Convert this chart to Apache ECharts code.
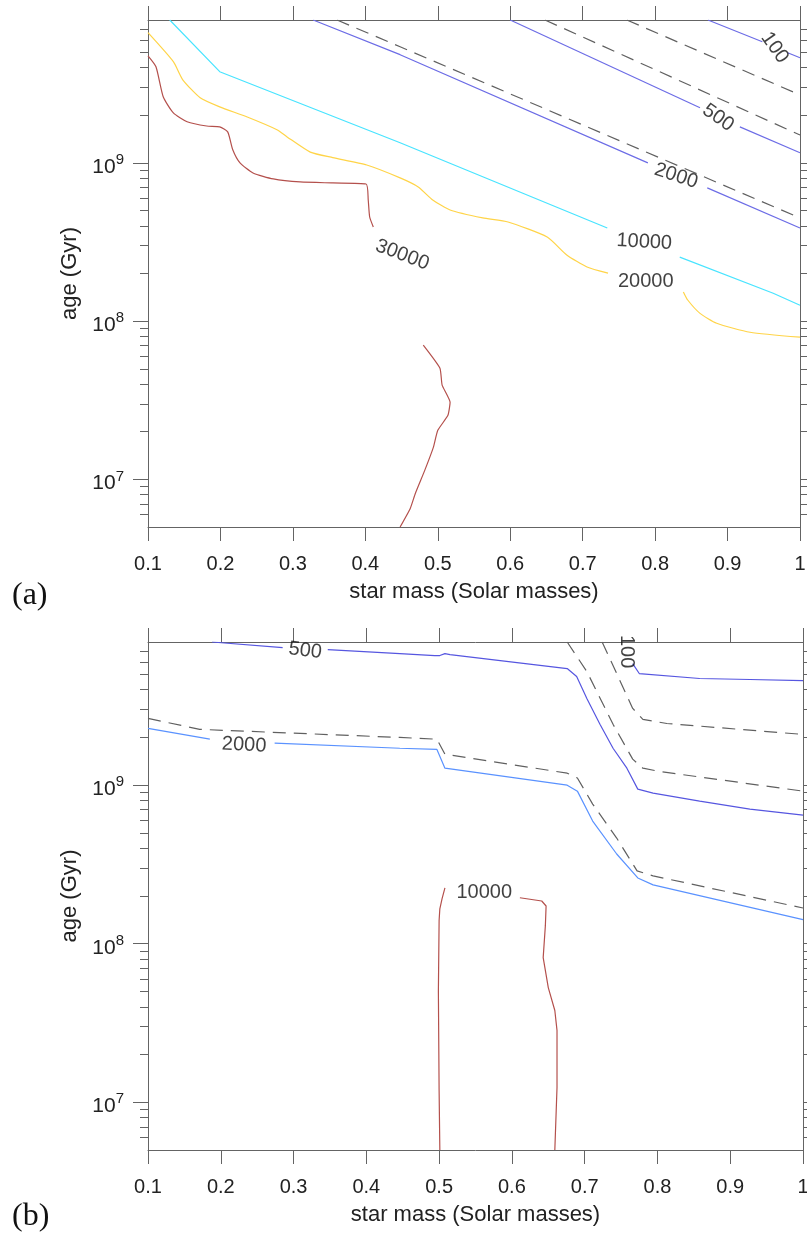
<!DOCTYPE html>
<html><head><meta charset="utf-8">
<script src="https://cdn.jsdelivr.net/npm/echarts@6/dist/echarts.min.js"></script>
<style>html,body{margin:0;padding:0;background:#fff}#c{width:807px;height:1234px}</style>
</head><body><div id="c"></div>
<script>
// ---------- axis ranges / tick labels ----------
const massRange = [0.1, 1];
const ageRange = [5e6, 8e9];
const decadeTicks = [1e7, 1e8, 1e9];
const minorDecades = [1e6, 1e7, 1e8, 1e9];
const minorFactors = [2, 3, 4, 5, 6, 7, 8, 9];
const xTitle = 'star mass (Solar masses)';
const yTitle = 'age (Gyr)';
const panelTags = ['(a)', '(b)'];

// ---------- panel (a) contours: [mass, age] ----------
const a30000_upper = [[0.100,4.75e9],[0.111,4.05e9],[0.121,2.62e9],[0.135,2.07e9],[0.154,1.82e9],[0.181,1.71e9],[0.199,1.69e9],[0.210,1.57e9],[0.217,1.21e9],[0.227,1.0e9],[0.245,8.64e8],[0.273,7.92e8],[0.310,7.58e8],[0.355,7.47e8],[0.401,7.36e8],[0.404,5.83e8],[0.406,4.55e8],[0.411,3.94e8]];
const a30000_lower = [[0.480,7.05e7],[0.503,5.04e7],[0.506,3.94e7],[0.517,3.07e7],[0.514,2.54e7],[0.500,2.04e7],[0.494,1.60e7],[0.482,1.14e7],[0.469,8.15e6],[0.462,6.55e6],[0.448,5.0e6]];
const a20000_left = [[0.100,6.65e9],[0.135,4.36e9],[0.148,3.35e9],[0.172,2.58e9],[0.199,2.26e9],[0.237,1.95e9],[0.278,1.62e9],[0.292,1.46e9],[0.324,1.17e9],[0.355,1.08e9],[0.402,9.7e8],[0.448,8.04e8],[0.473,7.05e8],[0.493,5.83e8],[0.517,5.04e8],[0.562,4.49e8],[0.597,4.23e8],[0.651,3.40e8],[0.678,2.62e8],[0.706,2.20e8],[0.735,2.01e8]];
const a20000_right = [[0.839,1.53e8],[0.845,1.36e8],[0.862,1.12e8],[0.885,9.7e7],[0.931,8.51e7],[1.0,7.92e7]];
const a10000_left = [[0.130,8e9],[0.199,3.77e9],[0.448,1.34e9],[0.734,3.88e8]];
const a10000_right = [[0.834,2.54e8],[0.963,1.50e8],[1.0,1.26e8]];
const a2000_left = [[0.328,8e9],[0.448,4.83e9],[0.790,1.0e9]];
const a2000_right = [[0.872,6.95e8],[1.0,3.88e8]];
const a500_left = [[0.600,8e9],[0.862,2.23e9]];
const a500_right = [[0.917,1.69e9],[1.0,1.16e9]];
const a100_left = [[0.873,8e9],[0.948,5.83e9]];
const a100_right = [[0.983,4.97e9],[1.0,4.62e9]];
const aDashA = [[0.361,8e9],[0.448,5.42e9],[1.0,4.49e8]];
const aDashB = [[0.648,8e9],[1.0,1.50e9]];
const aDashC = [[0.761,8e9],[1.0,2.69e9]];
// contour labels: [text, mass, age]
const aLabels = [['30000',0.451,2.62e8],['20000',0.787,1.77e8],['10000',0.785,3.16e8],['2000',0.829,8.27e8],['500',0.887,1.93e9],['100',0.965,5.35e9]];

// ---------- panel (b) contours ----------
const b500_left = [[0.188,8e9],[0.285,7.38e9]];
const b500_right = [[0.347,7.17e9],[0.446,6.76e9],[0.494,6.57e9],[0.501,6.57e9],[0.508,6.76e9],[0.515,6.66e9],[0.676,5.44e9],[0.689,4.85e9],[0.703,3.52e9],[0.721,2.42e9],[0.739,1.71e9],[0.758,1.28e9],[0.773,9.44e8],[0.794,8.91e8],[0.858,7.93e8],[0.927,7.06e8],[1.0,6.48e8]];
const b100 = [[0.766,5.85e9],[0.775,5.06e9],[0.858,4.71e9],[0.927,4.64e9],[1.0,4.57e9]];
const b2000_left = [[0.100,2.28e9],[0.185,1.95e9]];
const b2000_right = [[0.274,1.84e9],[0.446,1.71e9],[0.497,1.68e9],[0.508,1.28e9],[0.676,1.0e9],[0.690,9.17e8],[0.711,5.94e8],[0.744,3.68e8],[0.773,2.60e8],[0.794,2.35e8],[1.0,1.42e8]];
const b10000_left = [[0.508,2.25e8],[0.504,1.92e8],[0.501,1.66e8],[0.500,1.40e8],[0.499,5.0e7],[0.500,1.19e7],[0.501,5e6]];
const b10000_right = [[0.611,1.95e8],[0.641,1.86e8],[0.647,1.73e8],[0.646,1.30e8],[0.643,8.17e7],[0.650,5.29e7],[0.659,3.79e7],[0.662,2.84e7],[0.662,1.24e7],[0.659,5e6]];
const bDash1 = [[0.676,8e9],[0.703,5.21e9],[0.739,2.42e9],[0.766,1.46e9],[0.780,1.28e9],[0.803,1.22e9],[1.0,9.17e8]];
const bDash2 = [[0.724,8e9],[0.744,5.06e9],[0.766,3.05e9],[0.780,2.60e9],[0.813,2.45e9],[1.0,2.09e9]];
const bDash3 = [[0.100,2.64e9],[0.171,2.25e9],[0.446,2.00e9],[0.497,1.95e9],[0.508,1.57e9],[0.676,1.19e9],[0.690,1.11e9],[0.711,7.6e8],[0.744,4.64e8],[0.772,2.88e8],[0.794,2.68e8],[1.0,1.68e8]];
const bLabels = [['500',0.316,7.06e9],['2000',0.232,1.79e9],['100',0.758,6.96e9],['10000',0.562,2.09e8]];

// ---------- styling ----------
const FONT = '"Liberation Sans", Arial, Helvetica, sans-serif';
const AXIS_COLOR = '#646464';
const TEXT_COLOR = '#222';
const C = {brown:'#b4504c', yellow:'#ffd448', cyan:'#48e4ff', blueA:'#6c6ce6', blueB:'#5656e0', blue2000:'#5a92ff', dash:'#606060'};
const aLabelRot = [-21, 0, -3, -18, -35, -55];
const bLabelRot = [-7, -3, -90, 0];

const minorTickValues = [];
minorDecades.forEach(d => minorFactors.forEach(f => {
  const v = d * f;
  if (v > ageRange[0] && v < ageRange[1]) minorTickValues.push(v);
}));

const lineStyleAxis = {color: AXIS_COLOR, width: 1};

function xAxes(g) {
  const base = {gridIndex: g, type: 'value', min: massRange[0], max: massRange[1], interval: 0.1,
    axisLine: {show: true, onZero: false, lineStyle: lineStyleAxis},
    axisTick: {show: true, inside: false, length: 14, lineStyle: lineStyleAxis},
    splitLine: {show: false}};
  return [
    Object.assign({}, base, {position: 'bottom',
      axisLabel: {show: true, margin: 27, fontSize: 20, color: TEXT_COLOR, fontFamily: FONT},
      name: xTitle, nameLocation: 'middle', nameGap: 54,
      nameTextStyle: {fontSize: 22, color: TEXT_COLOR, fontFamily: FONT}}),
    Object.assign({}, base, {position: 'top', axisLabel: {show: false}})
  ];
}
function yAxes(g) {
  const base = {gridIndex: g, type: 'log', logBase: 10, min: ageRange[0], max: ageRange[1],
    axisLine: {show: true, onZero: false, lineStyle: lineStyleAxis},
    axisTick: {show: true, inside: false, length: 15, customValues: decadeTicks, lineStyle: lineStyleAxis},
    minorTick: {show: false},
    splitLine: {show: false}, minorSplitLine: {show: false}};
  const minor = {gridIndex: g, type: 'log', logBase: 10, min: ageRange[0], max: ageRange[1],
    axisLine: {show: false},
    axisTick: {show: true, inside: false, length: 8, customValues: minorTickValues, lineStyle: lineStyleAxis},
    axisLabel: {show: false}, minorTick: {show: false},
    splitLine: {show: false}, minorSplitLine: {show: false}};
  return [
    Object.assign({}, base, {position: 'left',
      axisLabel: {show: true, customValues: decadeTicks, margin: 24, color: TEXT_COLOR, fontFamily: FONT,
        formatter: v => '{b|10}{s|' + Math.round(Math.log10(v)) + '}',
        rich: {b: {fontSize: 21, lineHeight: 21, padding: [8, 0, 0, 0], color: TEXT_COLOR, fontFamily: FONT},
               s: {fontSize: 15, lineHeight: 15, verticalAlign: 'top', color: TEXT_COLOR, fontFamily: FONT}}},
      name: yTitle, nameLocation: 'middle', nameGap: 64, nameRotate: 90,
      nameTextStyle: {fontSize: 22, color: TEXT_COLOR, fontFamily: FONT}}),
    Object.assign({}, minor, {position: 'left'}),
    Object.assign({}, base, {position: 'right', axisLabel: {show: false}}),
    Object.assign({}, minor, {position: 'right'})
  ];
}
function line(data, color, g, dashed, smooth) {
  return {type: 'line', xAxisIndex: g * 2, yAxisIndex: g * 4, data: data, symbol: 'none', showSymbol: false,
    smooth: smooth || false, silent: true, animation: false, z: 3,
    lineStyle: {color: color, width: 1.2, type: dashed ? [13, 8] : 'solid'}};
}
function labels(list, rots, g) {
  return {type: 'scatter', xAxisIndex: g * 2, yAxisIndex: g * 4, symbolSize: 1, silent: true, animation: false, z: 5,
    itemStyle: {color: 'rgba(0,0,0,0)'},
    data: list.map((d, i) => ({name: d[0], value: [d[1], d[2]], label: {rotate: rots[i]}})),
    label: {show: true, position: 'inside', formatter: p => p.name, fontSize: 20, color: '#111', fontFamily: FONT}};
}

const option = {
  backgroundColor: '#fff',
  animation: false,
  title: panelTags.map((t, i) => ({text: t, left: 12, top: i === 0 ? 580 : 1201, padding: 0,
    textStyle: {fontFamily: '"Liberation Serif", "DejaVu Serif", serif', fontSize: 32, fontWeight: 'normal', color: '#111'}})),
  grid: [
    {left: 148, top: 20, width: 652, height: 507, outerBoundsMode: 'none'},
    {left: 148, top: 642, width: 655, height: 508, outerBoundsMode: 'none'}
  ],
  xAxis: xAxes(0).concat(xAxes(1)),
  yAxis: yAxes(0).concat(yAxes(1)),
  series: [
    line(aDashA, C.dash, 0, true), line(aDashB, C.dash, 0, true), line(aDashC, C.dash, 0, true),
    line(a30000_upper, C.brown, 0, false, 0.2), line(a30000_lower, C.brown, 0, false, 0.15),
    line(a20000_left, C.yellow, 0, false, 0.2), line(a20000_right, C.yellow, 0, false, 0.2),
    line(a10000_left, C.cyan, 0), line(a10000_right, C.cyan, 0),
    line(a2000_left, C.blueA, 0), line(a2000_right, C.blueA, 0),
    line(a500_left, C.blueA, 0), line(a500_right, C.blueA, 0),
    line(a100_left, C.blueA, 0), line(a100_right, C.blueA, 0),
    labels(aLabels, aLabelRot, 0),
    line(bDash1, C.dash, 1, true), line(bDash2, C.dash, 1, true), line(bDash3, C.dash, 1, true),
    line(b500_left, C.blueB, 1), line(b500_right, C.blueB, 1), line(b100, C.blueB, 1),
    line(b2000_left, C.blue2000, 1), line(b2000_right, C.blue2000, 1),
    line(b10000_left, C.brown, 1), line(b10000_right, C.brown, 1),
    labels(bLabels, bLabelRot, 1)
  ]
};
const chart = echarts.init(document.getElementById('c'));
chart.setOption(option);
</script></body></html>
